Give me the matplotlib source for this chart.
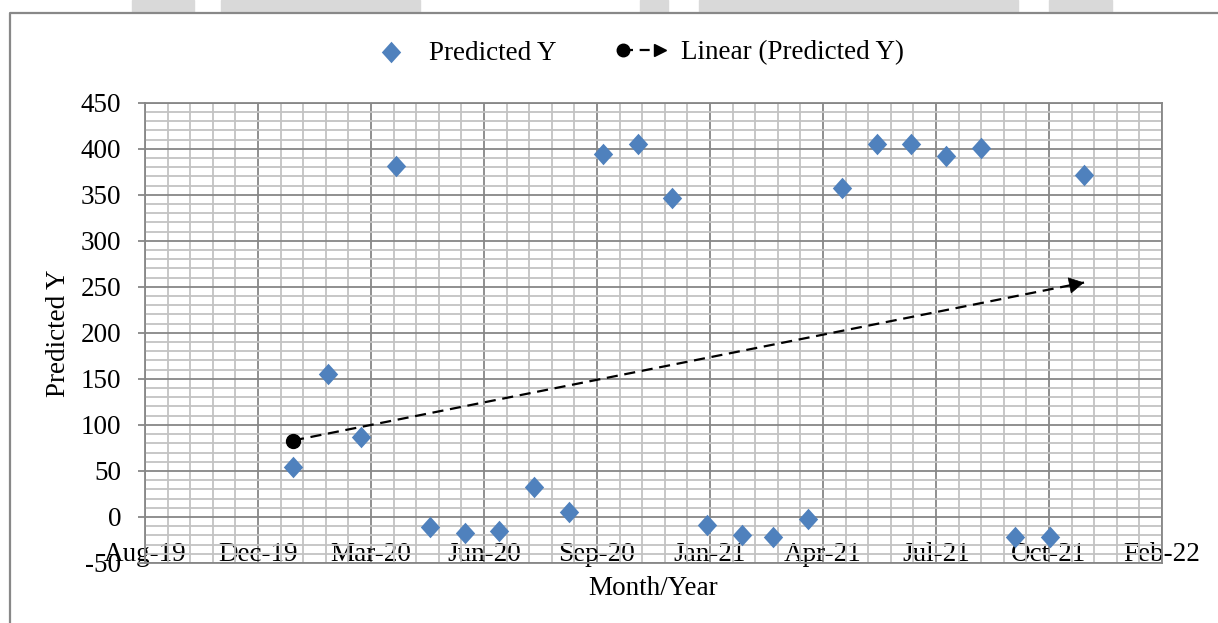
import numpy as np
import pandas as pd
import matplotlib
matplotlib.use("Agg")
import matplotlib.pyplot as plt
import matplotlib.dates as mdates
from matplotlib.lines import Line2D
from matplotlib.legend_handler import HandlerBase
from matplotlib.patches import Rectangle
from matplotlib.path import Path

# monthly predictions, Jan-2020 .. Dec-2021
months = pd.date_range("2020-01-01", "2021-12-01", freq="MS")
predicted = [54, 155, 87, 381, -11, -17, -15, 33, 5, 394, 405, 346,
             -9, -20, -22, -2, 357, 405, 405, 392, 401, -22, -22, 372]

# axis range (date axis with a 100 day major unit)
x_start = pd.Timestamp("2019-08-23")
x_end = pd.Timestamp("2022-02-08")
y_ticks = list(range(-50, 451, 50))

BLUE = "#4F81BD"
GRID_MAJOR = "#878787"
GRID_MINOR = "#c3c3c3"

plt.rcParams["font.family"] = ["Liberation Serif", "DejaVu Serif"]
plt.rcParams["axes.unicode_minus"] = False
FS = 19.5

diamond = Path([(0, 1), (0.9, 0), (0, -1), (-0.9, 0), (0, 1)],
               [Path.MOVETO, Path.LINETO, Path.LINETO, Path.LINETO, Path.CLOSEPOLY])


class TrendHandler(HandlerBase):
    # dot -- dashed -- arrow, like the trendline itself
    def create_artists(self, legend, orig_handle, xdescent, ydescent,
                       width, height, fontsize, trans):
        y = height / 2 - ydescent
        x0 = -xdescent + 3
        x1 = -xdescent + width - 2
        line = Line2D([x0, x1 - 4], [y, y], color="black", lw=1.6,
                      ls=(0, (4.5, 3)), transform=trans)
        dot = Line2D([x0], [y], marker="o", ms=9, color="black",
                     ls="none", transform=trans)
        head = Line2D([x1 - 3], [y], marker=">", ms=9, color="black",
                      ls="none", transform=trans)
        return [line, dot, head]


fig = plt.figure(figsize=(12.18, 6.23), dpi=100)
ax = fig.add_axes([145 / 1218, 1 - 563 / 623, (1162 - 145) / 1218, (563 - 102.7) / 623])

# page remnants above the chart frame
for a, b in [(132, 194), (221, 420), (640, 668), (699, 1018), (1049, 1112)]:
    fig.patches.append(Rectangle((a / 1218, 1 - 12 / 623), (b - a) / 1218, 12 / 623,
                                 transform=fig.transFigure, color="#d9d9d9", zorder=0))
fig.add_artist(Line2D([10 / 1218, 10 / 1218, 1], [0, 1 - 12.5 / 623, 1 - 12.5 / 623],
                      transform=fig.transFigure, color="#888888", lw=1.6))

ax.scatter(months, predicted, marker=diamond, s=15.5 ** 2, color=BLUE,
           linewidths=0, zorder=3, label="Predicted Y")

# linear trend of the predictions
xnum = mdates.date2num(months)
coef = np.polyfit(xnum, predicted, 1)
ends = np.polyval(coef, [xnum[0], xnum[-1]])
ax.plot([xnum[0], xnum[-1]], ends, color="black", lw=1.6, ls=(0, (5, 3)), zorder=4)
ax.plot(xnum[0], ends[0], "o", ms=10, color="black", zorder=5)
back = xnum[-1] - 12
ax.annotate("", xy=(xnum[-1], ends[1]), xytext=(back, np.polyval(coef, back)),
            arrowprops=dict(arrowstyle="-|>,head_length=1.0,head_width=0.55",
                            mutation_scale=10, color="black", lw=0.5,
                            shrinkA=0, shrinkB=0), zorder=5)

ax.set_xlim(x_start, x_end)
ax.set_ylim(-50, 450)
ax.set_xticks(pd.date_range(x_start, x_end, freq="100D"))
ax.set_xticks(pd.date_range(x_start, x_end, freq="20D"), minor=True)
ax.xaxis.set_major_formatter(mdates.DateFormatter("%b-%y"))
ax.set_yticks(y_ticks)
ax.set_yticks(range(-50, 451, 10), minor=True)

ax.grid(which="major", color=GRID_MAJOR, lw=1.3)
ax.grid(which="minor", color=GRID_MINOR, lw=1.3)
ax.set_axisbelow(True)
for s in ax.spines.values():
    s.set_color(GRID_MAJOR)
    s.set_linewidth(1.3)

ax.tick_params(axis="x", which="both", length=0, labelsize=FS, pad=-15)
ax.tick_params(axis="y", which="major", length=5, color=GRID_MAJOR,
               width=1.3, labelsize=FS, pad=12)
ax.tick_params(axis="y", which="minor", length=0)

ax.set_xlabel("Month/Year", fontsize=FS)
ax.xaxis.set_label_coords(0.5, -0.028)
ax.set_ylabel("Predicted Y", fontsize=FS)
ax.yaxis.set_label_coords(-0.073, 0.5)

trend_handle = Line2D([], [], color="black")
fig.legend([ax.collections[0], trend_handle],
           ["Predicted Y", "Linear (Predicted Y)"],
           handler_map={trend_handle: TrendHandler()},
           loc="center", bbox_to_anchor=(635 / 1218, 1 - 53 / 623), ncol=2,
           frameon=False, fontsize=FS, handlelength=1.8, handletextpad=0.5,
           columnspacing=2.3, scatterpoints=1)

fig.savefig("out.png", dpi=100)
